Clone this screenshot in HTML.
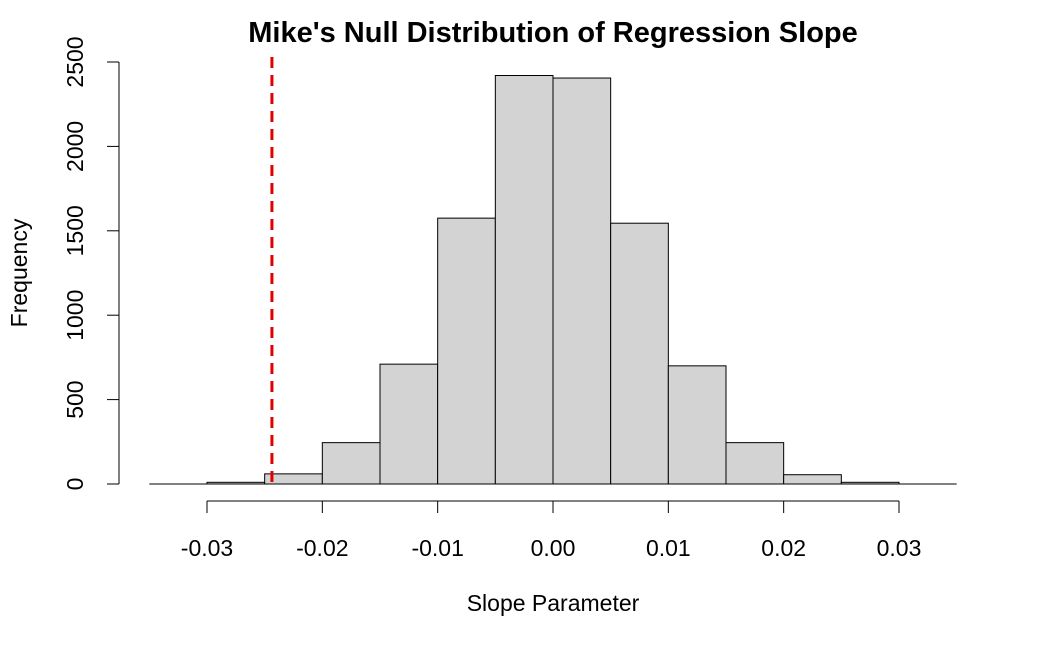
<!DOCTYPE html>
<html><head><meta charset="utf-8"><style>
body{margin:0;background:#fff;}
svg{display:block;font-family:"Liberation Sans",Arial,sans-serif;}
</style></head><body>
<svg id="chart" width="1050" height="648" viewBox="0 0 1050 648" xmlns="http://www.w3.org/2000/svg">
<rect width="1050" height="648" fill="#fff"/>
<text x="553" y="42" text-anchor="middle" font-size="29" font-weight="bold">Mike's Null Distribution of Regression Slope</text>
<text x="553" y="611" text-anchor="middle" font-size="23">Slope Parameter</text>
<text transform="translate(27,273) rotate(-90)" text-anchor="middle" font-size="23">Frequency</text>
<g id="bars"></g>
<g id="axes"></g>
</svg>
<script>
const binStarts=[-0.03,-0.025,-0.02,-0.015,-0.01,-0.005,0,0.005,0.01,0.015,0.02,0.025];
const counts=[10,60,245,710,1575,2420,2405,1545,700,245,55,10];
const binWidth=0.005;
const xTicks=[-0.03,-0.02,-0.01,0,0.01,0.02,0.03];
const xTickLabels=["-0.03","-0.02","-0.01","0.00","0.01","0.02","0.03"];
const yTicks=[0,500,1000,1500,2000,2500];
const observedSlope=-0.02437;

const NS="http://www.w3.org/2000/svg";
const xs=v=>553+v*11533.3;
const ys=v=>484-v*0.1688;
function mk(tag,attrs,parent){const e=document.createElementNS(NS,tag);for(const k in attrs)e.setAttribute(k,attrs[k]);parent.appendChild(e);return e;}
const bars=document.getElementById('bars');
const axes=document.getElementById('axes');
mk('line',{x1:xs(-0.035),x2:xs(0.035),y1:ys(0),y2:ys(0),stroke:'#000','stroke-width':1},bars);
binStarts.forEach((b,i)=>{
  const r=mk('rect',{x:xs(b),y:ys(counts[i]),width:xs(b+binWidth)-xs(b),height:ys(0)-ys(counts[i]),fill:'#d3d3d3',stroke:'#000','stroke-width':1},bars);
  
  
});
let l=mk('line',{x1:xs(xTicks[0]),x2:xs(xTicks[xTicks.length-1]),y1:501,y2:501,stroke:'#000'},axes);

xTicks.forEach((t,i)=>{
  mk('line',{x1:xs(t),x2:xs(t),y1:501,y2:513,stroke:'#000'},axes);
  const tx=mk('text',{x:xs(t),y:556,'text-anchor':'middle','font-size':23},axes);
  tx.textContent=xTickLabels[i];
  
  
});
l=mk('line',{x1:119,x2:119,y1:ys(yTicks[0]),y2:ys(yTicks[yTicks.length-1]),stroke:'#000'},axes);

yTicks.forEach(t=>{
  mk('line',{x1:107,x2:119,y1:ys(t),y2:ys(t),stroke:'#000'},axes);
  const tx=mk('text',{transform:`translate(83,${ys(t)}) rotate(-90)`,'text-anchor':'middle','font-size':23},axes);
  tx.textContent=String(t);
  
  
});
const ref=mk('line',{x1:xs(observedSlope),x2:xs(observedSlope),y1:57,y2:485,stroke:'#e00000','stroke-width':3,'stroke-dasharray':'11,7'},axes);


</script>
</body></html>
